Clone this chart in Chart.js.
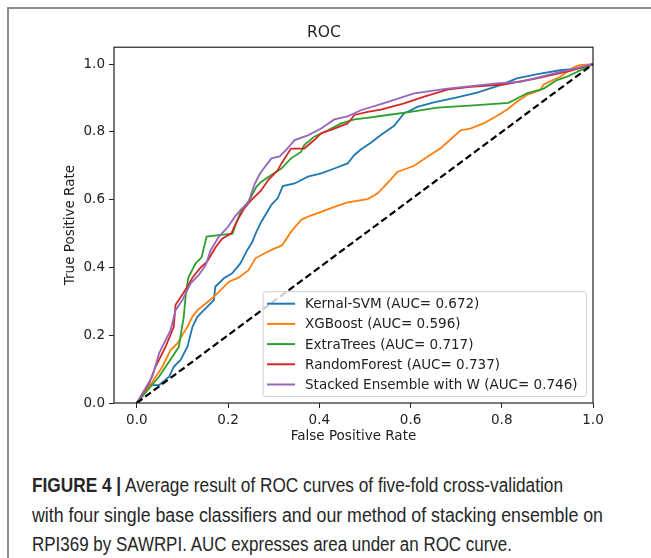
<!DOCTYPE html>
<html lang="en">
<head>
<meta charset="UTF-8">
<title>ROC</title>
<script src="https://cdn.jsdelivr.net/npm/chart.js"></script>
<style>
  body { margin: 0; background: #fff; width: 651px; height: 558px; overflow: hidden; position: relative; }
  .frame { position: absolute; left: 7px; top: 7px; right: 0; bottom: 0; border-top: 2px solid #8d8d8d; border-left: 2px solid #8d8d8d; }
  #chartBox { position: absolute; left: 0; top: 0; width: 651px; height: 460px; }
  .caption { position: absolute; left: 32px; top: 471px; font-family: "Liberation Sans", Arial, sans-serif; font-size: 19.5px; line-height: 29.5px; color: #262626; white-space: nowrap; }
  .caption .line { display: inline-block; transform-origin: 0 0; }
  .caption b { font-weight: bold; }
</style>
</head>
<body>
<div class="frame"></div>
<div id="chartBox"><canvas id="roc" width="651" height="460"></canvas></div>
<div class="caption" id="caption">
  <span class="line" data-w="531"><b>FIGURE 4 |</b> Average result of ROC curves of five-fold cross-validation</span><br>
  <span class="line" data-w="571">with four single base classifiers and our method of stacking ensemble on</span><br>
  <span class="line" data-w="480">RPI369 by SAWRPI. AUC expresses area under an ROC curve.</span>
</div>

<script>
// curve values (false positive rate / true positive rate)
const svmFpr = [0, .016, .027, .049, .071, .081, .096, .111, .122, .133, .151, .169, .172, .191, .209, .227, .242, .253, .262, .273, .284, .295, .309, .32, .346, .375, .404, .433, .462, .477, .491, .513, .535, .55, .564, .586, .593, .615, .651, .695, .746, .797, .833, .884, .928, .965, 1];
const svmTpr = [0, .028, .053, .053, .078, .107, .127, .166, .225, .255, .279, .304, .343, .368, .383, .412, .451, .475, .505, .535, .56, .585, .605, .64, .648, .668, .678, .692, .707, .732, .748, .768, .791, .805, .818, .855, .859, .874, .887, .9, .916, .938, .958, .972, .982, .987, 1];

const xgbFpr = [0, .027, .056, .074, .089, .1, .111, .122, .133, .147, .165, .18, .202, .223, .245, .26, .28, .3, .318, .338, .36, .375, .404, .433, .462, .506, .528, .557, .571, .608, .637, .666, .71, .731, .76, .79, .812, .833, .855, .884, .892, .928, .957, .97, 1];
const xgbTpr = [0, .048, .107, .156, .176, .201, .225, .255, .274, .289, .309, .328, .358, .37, .392, .427, .442, .455, .465, .505, .54, .55, .564, .579, .592, .602, .619, .66, .682, .7, .727, .752, .805, .81, .825, .848, .866, .889, .909, .923, .94, .963, .99, .997, 1];

const etFpr = [0, .049, .092, .103, .108, .113, .129, .142, .153, .175, .21, .218, .229, .247, .262, .273, .295, .317, .338, .36, .367, .389, .419, .448, .477, .513, .55, .6, .659, .746, .815, .841, .855, .892, .921, .943, 1];
const etTpr = [0, .078, .165, .255, .33, .37, .412, .43, .491, .495, .5, .531, .569, .599, .638, .653, .673, .692, .722, .741, .761, .786, .805, .825, .837, .843, .85, .859, .872, .879, .886, .904, .914, .928, .953, .963, 1];

const rfFpr = [0, .027, .041, .063, .081, .085, .092, .111, .122, .14, .154, .165, .172, .187, .207, .218, .236, .251, .273, .288, .309, .317, .331, .338, .367, .389, .404, .433, .462, .477, .506, .535, .586, .63, .681, .731, .804, .877, .95, 1];
const rfTpr = [0, .058, .107, .166, .225, .29, .304, .343, .37, .4, .417, .442, .458, .485, .5, .533, .575, .599, .628, .658, .687, .707, .736, .751, .751, .776, .796, .81, .825, .85, .859, .866, .884, .904, .925, .933, .94, .958, .98, 1];

const stackFpr = [0, .034, .049, .074, .085, .1, .118, .136, .151, .162, .18, .2, .215, .229, .244, .258, .269, .277, .295, .313, .328, .346, .375, .404, .433, .462, .491, .535, .608, .681, .79, .841, .913, .943, 1];
const stackTpr = [0, .078, .147, .215, .274, .304, .353, .378, .407, .451, .491, .52, .55, .572, .59, .645, .675, .69, .722, .728, .748, .776, .79, .81, .837, .846, .864, .882, .914, .928, .943, .948, .972, .982, 1];

const chanceFpr = [0, 1];
const chanceTpr = [0, 1];

const seriesLabels = [
  'Kernal-SVM (AUC= 0.672)',
  'XGBoost (AUC= 0.596)',
  'ExtraTrees (AUC= 0.717)',
  'RandomForest (AUC= 0.737)',
  'Stacked Ensemble with W (AUC= 0.746)'
];
const seriesFpr = [svmFpr, xgbFpr, etFpr, rfFpr, stackFpr];
const seriesTpr = [svmTpr, xgbTpr, etTpr, rfTpr, stackTpr];
const seriesColors = ['#1f77b4', '#ff7f0e', '#2ca02c', '#d62728', '#9467bd'];

const xTicks = [0, 0.2, 0.4, 0.6, 0.8, 1.0];
const yTicks = [0, 0.2, 0.4, 0.6, 0.8, 1.0];

const FONT = '"DejaVu Sans", sans-serif';
const INK = '#222222';

// squeeze each caption line like the condensed journal font
document.querySelectorAll('.caption .line').forEach(el => {
  const natural = el.getBoundingClientRect().width;
  el.style.transform = 'scaleX(' + (Number(el.dataset.w) / natural) + ')';
});

const pairUp = (xs, ys) => xs.map((x, i) => ({ x: x, y: ys[i] }));

const datasets = seriesLabels.map((label, i) => ({
  label: label,
  data: pairUp(seriesFpr[i], seriesTpr[i]),
  borderColor: seriesColors[i],
  borderWidth: 1.8,
  pointRadius: 0,
  tension: 0,
  fill: false,
  order: 5 - i
}));
datasets.push({
  label: 'chance',
  data: pairUp(chanceFpr, chanceTpr),
  borderColor: '#000000',
  borderWidth: 2.2,
  borderDash: [7, 3.5],
  pointRadius: 0,
  fill: false,
  order: 0
});

// box around the plot, like matplotlib's spines
const axesFrame = {
  id: 'axesFrame',
  afterDraw(chart) {
    const { ctx, chartArea: a } = chart;
    ctx.save();
    ctx.strokeStyle = INK;
    ctx.lineWidth = 1.2;
    ctx.strokeRect(a.left, a.top, a.right - a.left, a.bottom - a.top);
    ctx.restore();
  }
};

// legend in the lower right corner of the plot
const legendBox = {
  id: 'legendBox',
  afterDraw(chart) {
    const { ctx, chartArea: a } = chart;
    ctx.save();
    ctx.font = '13.5px ' + FONT;
    const textW = Math.max(...seriesLabels.map(s => ctx.measureText(s).width));
    const rowH = 20.2;
    const w = 4 + 28 + 10 + textW + 9;
    const h = 12 + rowH * (seriesLabels.length - 1) + 12;
    const right = a.right - 6.5, bottom = a.bottom - 6.5;
    const left = right - w, top = bottom - h;

    ctx.beginPath();
    ctx.roundRect(left, top, w, h, 3);
    ctx.fillStyle = 'rgba(255,255,255,0.8)';
    ctx.fill();
    ctx.strokeStyle = '#d0d0d0';
    ctx.lineWidth = 1;
    ctx.stroke();

    ctx.textBaseline = 'middle';
    seriesLabels.forEach((label, i) => {
      const y = top + 12 + i * rowH;
      ctx.beginPath();
      ctx.moveTo(left + 4, y);
      ctx.lineTo(left + 32, y);
      ctx.strokeStyle = seriesColors[i];
      ctx.lineWidth = 2;
      ctx.stroke();
      ctx.fillStyle = INK;
      ctx.fillText(label, left + 42, y + 1);
    });
    ctx.restore();
  }
};

new Chart(document.getElementById('roc'), {
  type: 'line',
  data: { datasets: datasets },
  options: {
    responsive: false,
    animation: false,
    devicePixelRatio: 1,
    layout: { padding: { left: 55, right: 58, top: 24, bottom: 0 } },
    plugins: {
      legend: { display: false },
      tooltip: { enabled: false },
      title: {
        display: true,
        text: 'ROC',
        color: INK,
        font: { family: FONT, size: 15.6, weight: 'normal' },
        padding: { top: 0, bottom: 4.5 }
      }
    },
    scales: {
      x: {
        type: 'linear',
        min: -0.05,
        max: 1.0,
        afterBuildTicks: s => { s.ticks = xTicks.map(v => ({ value: v })); },
        afterFit: s => { s.height = 57; },
        border: { display: false },
        grid: { drawOnChartArea: false, drawTicks: true, tickLength: 5, color: INK, tickWidth: 1 },
        ticks: { color: INK, padding: 4, font: { family: FONT, size: 13.5 }, maxRotation: 0, callback: v => Number(v).toFixed(1) },
        title: { display: true, text: 'False Positive Rate', color: INK, font: { family: FONT, size: 13.5 }, padding: { top: 0, bottom: 15 } }
      },
      y: {
        type: 'linear',
        min: 0,
        max: 1.05,
        afterBuildTicks: s => { s.ticks = yTicks.map(v => ({ value: v })); },
        afterFit: s => { s.width = 59; },
        border: { display: false },
        grid: { drawOnChartArea: false, drawTicks: true, tickLength: 5, color: INK, tickWidth: 1 },
        ticks: { color: INK, padding: 4, font: { family: FONT, size: 13.5 }, callback: v => Number(v).toFixed(1) },
        title: { display: true, text: 'True Positive Rate', color: INK, font: { family: FONT, size: 13.5 }, padding: { top: 7, bottom: 7 } }
      }
    }
  },
  plugins: [axesFrame, legendBox]
});
</script>
</body>
</html>
